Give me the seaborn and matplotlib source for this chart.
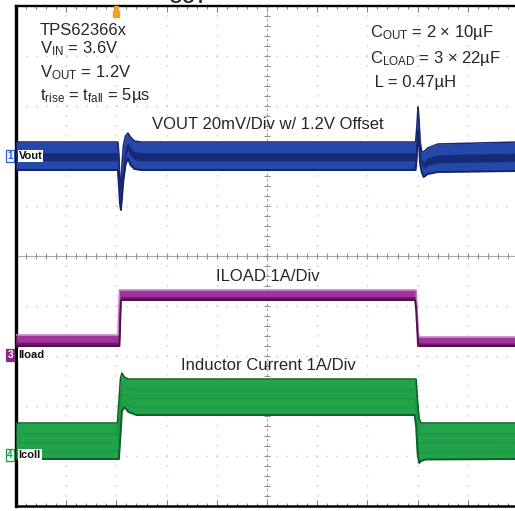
import numpy as np
import matplotlib
matplotlib.use("Agg")
import matplotlib.pyplot as plt
import seaborn as sns

# ---------------- data ----------------
# time base: 100 us/div, 10 divisions
time_vout_us = [0, 203, 205, 207, 209, 211, 214, 218, 223, 228, 236, 250,
                796, 798, 800, 801, 803, 805, 808, 812, 820, 840, 1000]
vout_upper_mV = [5.6, 5.6, 0.4, -9.6, -13.6, -3.6, 4.4, 8.0, 9.2, 7.6, 6.0, 5.6,
                 5.6, 10.4, 17.0, 19.6, 14.0, 6.0, 2.0, 1.6, 3.2, 4.8, 5.6]
vout_lower_mV = [-5.6, -5.6, -11.6, -18.8, -21.6, -16.8, -9.6, -3.6, -0.8, -3.6, -5.2, -5.6,
                 -5.6, -1.6, 8.4, 10.0, 4.0, -3.0, -6.4, -8.4, -7.2, -6.4, -6.0]

time_iload_us = [0, 203, 206, 209, 795, 797, 801, 803, 1000]
iload_upper_A = [0.42, 0.42, 1.32, 1.32, 1.32, 1.32, 0.50, 0.38, 0.38]
iload_lower_A = [0.20, 0.20, 0.20, 1.12, 1.12, 0.95, 0.20, 0.20, 0.20]

time_icoil_us = [0, 202, 205, 208, 211, 216, 224, 240, 794, 797, 800, 803, 807, 815, 1000]
icoil_upper_A = [0.66, 0.66, 1.10, 1.55, 1.66, 1.58, 1.54, 1.54, 1.54, 1.54, 1.10, 0.75, 0.66, 0.66, 0.66]
icoil_lower_A = [-0.06, -0.06, -0.06, 0.40, 0.90, 0.98, 0.88, 0.82, 0.82, 0.60, 0.05, -0.14, -0.10, -0.07, -0.06]

# channel settings: vertical position (div) and scale (units/div)
vout_pos_div, vout_scale = 7.0, 20.0      # mV/div
iload_pos_div, iload_scale = 3.0, 1.0     # A/div
icoil_pos_div, icoil_scale = 1.0, 1.0     # A/div

channel_numbers = ["1", "3", "4"]
channel_names = ["Vout", "Iload", "Icoll"]
trace_titles = ["VOUT 20mV/Div w/ 1.2V Offset", "ILOAD 1A/Div", "Inductor Current 1A/Div"]
conditions_left = ["TPS62366x", r"V$_{\mathrm{IN}}$ = 3.6V", r"V$_{\mathrm{OUT}}$ = 1.2V",
                   r"t$_{\mathrm{rise}}$ = t$_{\mathrm{fall}}$ = 5µs"]
conditions_right = [r"C$_{\mathrm{OUT}}$ = 2 × 10µF", r"C$_{\mathrm{LOAD}}$ = 3 × 22µF", " L = 0.47µH"]

# ---------------- style ----------------
sns.set_theme(style="white")
plt.rcParams["font.family"] = ["Liberation Sans", "DejaVu Sans"]
plt.rcParams["mathtext.fontset"] = "custom"
plt.rcParams["mathtext.rm"] = "Liberation Sans"
plt.rcParams["mathtext.it"] = "Liberation Sans:italic"
plt.rcParams["mathtext.bf"] = "Liberation Sans:bold"
plt.rcParams["lines.scale_dashes"] = False

W, H = 515, 511
fig = plt.figure(figsize=(W / 100, H / 100), dpi=100)
fig.patch.set_facecolor("white")
# plot area: x 16..518 px, y 6..506 px
ax = fig.add_axes([16 / W, (H - 506) / H, 502 / W, 500 / H])
ax.set_xlim(0, 1000)
ax.set_ylim(0, 10)
ax.set_facecolor("white")

# grid
grid_col = "#b8b8b8"
for xv in np.arange(100, 1000, 100):
    if xv != 500:
        ax.axvline(xv, color=grid_col, lw=1.0, dashes=(0.8, 6.4), zorder=1)
for yv in np.arange(1, 10, 1):
    if yv != 5:
        ax.axhline(yv, color=grid_col, lw=1.0, dashes=(0.8, 6.4), zorder=1)
# centre crosshair with minor ticks
ax.axhline(5, color="#a8a8a8", lw=0.8, zorder=1)
ax.axvline(500, color="#a8a8a8", lw=0.8, dashes=(2.0, 1.6), zorder=1)
tick_t = np.arange(0, 1001, 20)
ax.plot(tick_t, np.full(tick_t.shape, 5.0), ls="none", marker="|", ms=4, mew=0.8, color="#909090", zorder=1)
tick_y = np.arange(0, 10.01, 0.2)
ax.plot(np.full(tick_y.shape, 500.0), tick_y, ls="none", marker="_", ms=4, mew=0.8, color="#909090", zorder=1)


def draw_band(t, up, lo, fill, edge_up, edge_lo, inner=None, inner_lo=0.3, inner_hi=0.7,
              stripes=None, stripe_col=None):
    t = np.asarray(t, float)
    up = np.asarray(up, float)
    lo = np.asarray(lo, float)
    ax.fill_between(t, lo, up, color=fill, lw=0, zorder=3)
    if inner is not None:
        span = up - lo
        ax.fill_between(t, lo + span * inner_lo, lo + span * inner_hi, color=inner, lw=0, zorder=4)
    if stripes is not None:
        for k in stripes:
            sns.lineplot(x=t, y=lo + (up - lo) * k, color=stripe_col, lw=0.7, ax=ax,
                         sort=False, estimator=None, zorder=4)
    sns.lineplot(x=t, y=up, color=edge_up, lw=1.1, ax=ax, sort=False, estimator=None, zorder=5)
    sns.lineplot(x=t, y=lo, color=edge_lo, lw=1.4, ax=ax, sort=False, estimator=None, zorder=5)


# VOUT (blue)
v_up = vout_pos_div + np.asarray(vout_upper_mV) / vout_scale
v_lo = vout_pos_div + np.asarray(vout_lower_mV) / vout_scale
draw_band(time_vout_us, v_up, v_lo, "#2549aa", "#17286e", "#15246a",
          inner="#172a78", inner_lo=0.33, inner_hi=0.62)

# ILOAD (magenta)
i_up = iload_pos_div + np.asarray(iload_upper_A) / iload_scale
i_lo = iload_pos_div + np.asarray(iload_lower_A) / iload_scale
draw_band(time_iload_us, i_up, i_lo, "#a2339c", "#c57cc0", "#4e1048",
          inner="#6e1a67", inner_lo=0.0, inner_hi=0.35)

# Inductor current (green)
c_up = icoil_pos_div + np.asarray(icoil_upper_A) / icoil_scale
c_lo = icoil_pos_div + np.asarray(icoil_lower_A) / icoil_scale
draw_band(time_icoil_us, c_up, c_lo, "#22a34b", "#0e5e27", "#0e5e27",
          stripes=[0.2, 0.45, 0.7], stripe_col="#1c9442")

# spines / ticks
ax.spines["right"].set_visible(False)
ax.spines["left"].set_linewidth(2.4)
ax.spines["top"].set_linewidth(1.7)
ax.spines["bottom"].set_linewidth(1.8)
for s in ["left", "top", "bottom"]:
    ax.spines[s].set_color("black")
ax.set_xticks(np.arange(0, 1001, 100))
ax.set_xticks(np.arange(0, 1001, 20), minor=True)
ax.set_yticks([])
ax.tick_params(axis="x", which="both", direction="in", top=True, bottom=True,
               labelbottom=False, color="#808080", width=0.8)
ax.tick_params(axis="x", which="major", length=4)
ax.tick_params(axis="x", which="minor", length=2.5)
ax.set_xlabel("")
ax.set_ylabel("")

# trigger marker (orange)
ax.plot([200], [9.84], marker="s", ms=5, color="#f0a030", clip_on=False, zorder=6)
ax.plot([200], [9.96], marker="s", ms=2.5, color="#f0a030", clip_on=False, zorder=6)


def fx(px):
    return px / W


def fy(py):
    return (H - py) / H


# condition text
fs = 12
left_baselines = [35, 53, 77, 100]
for txt, b in zip(conditions_left, left_baselines):
    fig.text(fx(40), fy(b), txt, fontsize=fs, va="baseline", ha="left")
right_baselines = [37, 63, 87]
right_x = [370, 370, 370]
for txt, b, xx in zip(conditions_right, right_baselines, right_x):
    fig.text(fx(xx), fy(b), txt, fontsize=fs, va="baseline", ha="left")

# trace titles
title_baselines = [129, 281, 370]
title_centers = [267.5, 267.5, 268]
for txt, b, c in zip(trace_titles, title_baselines, title_centers):
    fig.text(fx(c), fy(b), txt, fontsize=fs, va="baseline", ha="center", zorder=10)

# clipped figure title fragment at the very top (cut off in the reference as well)
fig.text(fx(168), fy(3), "OUT", fontsize=13, fontweight="bold", va="baseline", ha="left")

# channel markers
marker_y = [156, 355, 455]
num_styles = [
    dict(color="#2a5bd0", bbox=dict(boxstyle="square,pad=0.12", fc="white", ec="#2a5bd0", lw=0.9)),
    dict(color="white", bbox=dict(boxstyle="square,pad=0.12", fc="#8a2a84", ec="#8a2a84", lw=0.9)),
    dict(color="#1f9a45", bbox=dict(boxstyle="square,pad=0.12", fc="white", ec="#1f9a45", lw=0.9)),
]
for num, name, yy, st in zip(channel_numbers, channel_names, marker_y, num_styles):
    fig.text(fx(10), fy(yy), num, fontsize=7, fontweight="bold", ha="center", va="center",
             zorder=12, **st)
    fig.text(fx(18.5), fy(yy), name, fontsize=8, fontweight="bold", ha="left", va="center",
             family=["Liberation Sans Narrow", "Liberation Sans", "DejaVu Sans"], color="#111111",
             bbox=dict(boxstyle="square,pad=0.08", fc="white", ec="none"), zorder=12)

fig.savefig("out.png", dpi=100)
